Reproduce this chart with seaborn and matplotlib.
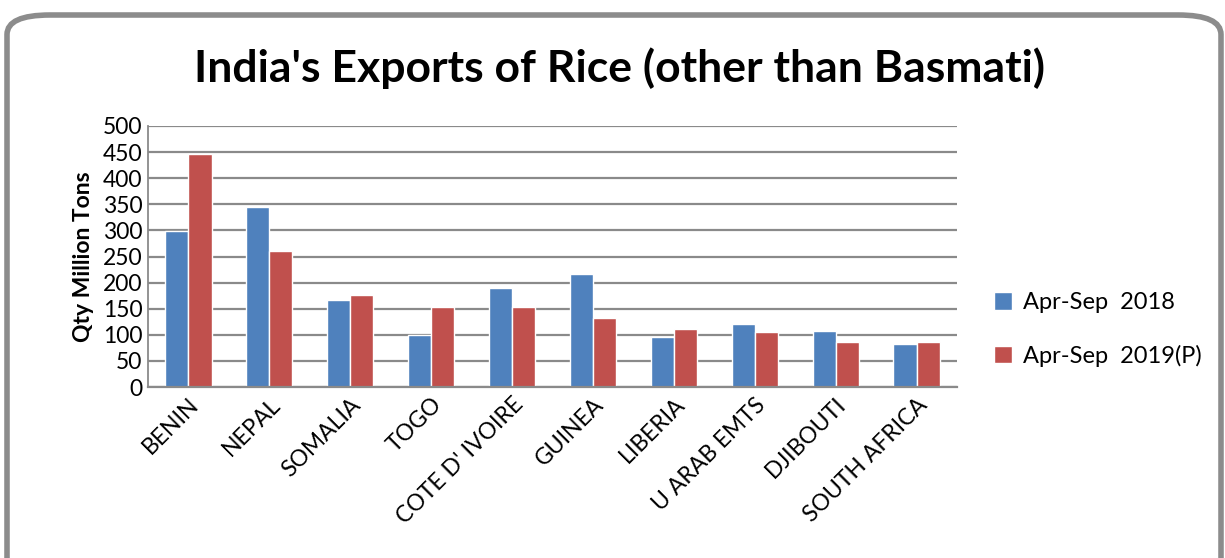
import matplotlib
matplotlib.use("Agg")
import matplotlib.pyplot as plt
import seaborn as sns
import pandas as pd
from matplotlib.patches import FancyBboxPatch

countries = ["BENIN", "NEPAL", "SOMALIA", "TOGO", "COTE D' IVOIRE", "GUINEA",
             "LIBERIA", "U ARAB EMTS", "DJIBOUTI", "SOUTH AFRICA"]
apr_sep_2018 = [298, 344, 166, 99, 189, 216, 95, 121, 107, 82]
apr_sep_2019 = [447, 260, 176, 154, 154, 133, 112, 105, 86, 86]
series_names = ["Apr-Sep  2018", "Apr-Sep  2019(P)"]
y_ticks = [0, 50, 100, 150, 200, 250, 300, 350, 400, 450, 500]

df = pd.DataFrame({
    "Country": countries * 2,
    "Value": apr_sep_2018 + apr_sep_2019,
    "Series": [series_names[0]] * len(countries) + [series_names[1]] * len(countries),
})

sns.set_theme(style="white")
plt.rcParams["font.family"] = ["Lato", "DejaVu Sans"]
plt.rcParams["text.color"] = "black"

W, H = 1225, 558
fig = plt.figure(figsize=(W / 100, H / 100), dpi=100)
ax = fig.add_axes([148 / W, 1 - 387 / H, (957 - 148) / W, (387 - 126) / H])

palette = {series_names[0]: "#4F81BD", series_names[1]: "#C0504D"}
sns.barplot(data=df, x="Country", y="Value", hue="Series", palette=palette,
            width=0.57, gap=0, ax=ax, legend=True, saturation=1)

ax.set_ylim(0, 500)
ax.set_xlim(-0.5, len(countries) - 0.5)
ax.set_yticks(y_ticks)
ax.yaxis.grid(True, color="#8a8a8a", linewidth=1.6)
ax.set_axisbelow(True)
for s in ["top", "right"]:
    ax.spines[s].set_visible(False)
ax.spines["left"].set_color("#8a8a8a")
ax.spines["left"].set_linewidth(1.3)
ax.spines["bottom"].set_color("#8a8a8a")
ax.spines["bottom"].set_linewidth(1.6)
ax.tick_params(axis="y", labelsize=16.5, pad=4, length=0, colors="black")
ax.tick_params(axis="x", labelsize=16.5, pad=5, length=0, colors="black")
plt.setp(ax.get_xticklabels(), rotation=45, ha="right", rotation_mode="anchor")
ax.set_xlabel("")
ax.set_ylabel("Qty Million Tons", fontsize=16.5, fontweight="bold", labelpad=6,
              color="black")

leg = ax.legend(loc="center left", bbox_to_anchor=(1.02, 0.22), frameon=False,
                fontsize=17, handlelength=0.75, handleheight=0.75,
                labelspacing=1.35, handletextpad=0.45)

fig.text(620 / W, 1 - 68 / H, "India's Exports of Rice (other than Basmati)",
         ha="center", va="center", fontsize=32, fontweight="bold", color="black")

frame = FancyBboxPatch((7 / W, -40 / H), (1221 - 7) / W, (H - 15 + 40) / H,
                       boxstyle="round,pad=0,rounding_size=0.035",
                       transform=fig.transFigure, facecolor="none",
                       edgecolor="#8c8c8c", linewidth=4, clip_on=False)
fig.patches.append(frame)

fig.savefig("out.png", dpi=100)
